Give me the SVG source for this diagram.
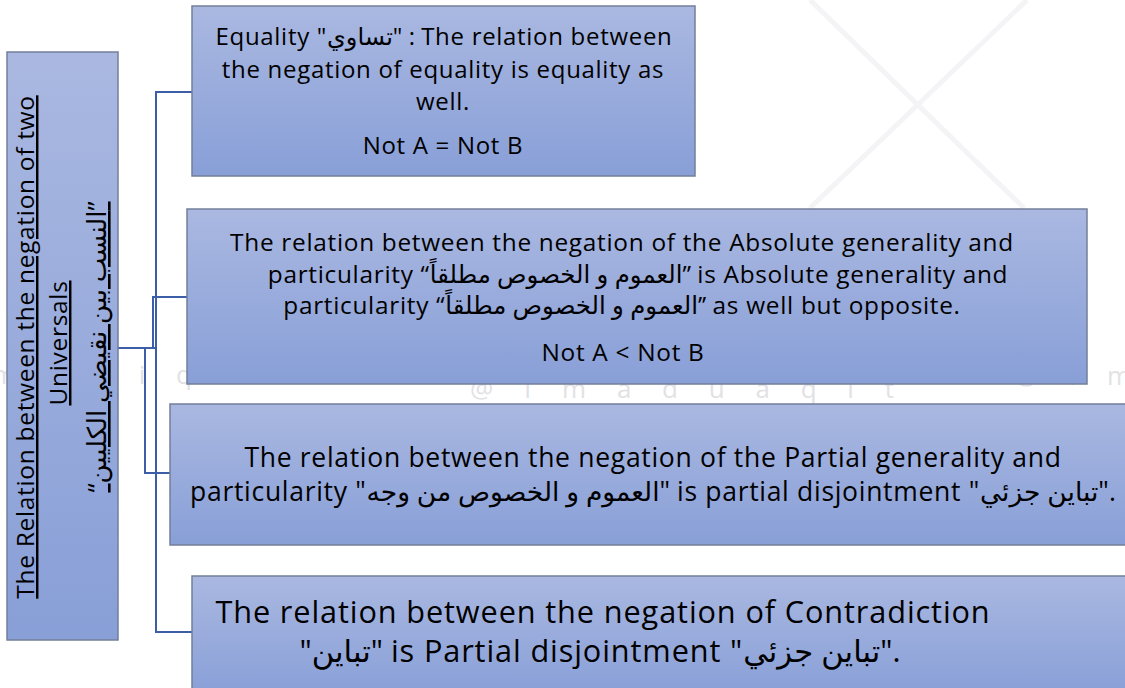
<svg xmlns="http://www.w3.org/2000/svg" width="1125" height="688" viewBox="0 0 1125 688">
<defs>
<linearGradient id="g" x1="0" y1="0" x2="0" y2="1">
<stop offset="0" stop-color="#aab8e1"/>
<stop offset="1" stop-color="#889fd7"/>
</linearGradient>
<style>
.box{fill:url(#g);stroke:#737f99;stroke-width:1.5}
.t{font-family:"Open Sans","DejaVu Sans",sans-serif;fill:#000;text-anchor:middle}
.ar{letter-spacing:0}
.c{fill:none;stroke:#3c5ea6;stroke-width:2}
.wm{font-family:"Open Sans","DejaVu Sans",sans-serif;fill:#e2e2e5;font-size:26px}
.x{stroke:#f4f4f6;stroke-width:5}
</style>
</defs>
<rect width="1125" height="688" fill="#fff"/>
<g id="watermark">
<line class="x" x1="810" y1="0" x2="1024" y2="208"/>
<line class="x" x1="1027" y1="0" x2="810" y2="208"/>
<text class="wm" x="-8" y="384" letter-spacing="12">m a d i q i t</text>
<text class="wm" x="470" y="398" letter-spacing="12">@ I m a d u a q i t</text>
<text class="wm" x="1015" y="385" letter-spacing="12">@ I m a</text>
</g>
<g id="connectors">
<path class="c" d="M192,92 H156 V632 H192"/>
<path class="c" d="M118,348 H156"/>
<path class="c" d="M187,297 H153 V348"/>
<path class="c" d="M145,348 V473 H170"/>
</g>
<g id="root">
<rect class="box" x="7" y="52" width="111" height="588"/>
<text class="t" font-size="24.5" letter-spacing="0.68" text-decoration="underline" transform="translate(34,347) rotate(-90)">The Relation between the negation of two</text>
<text class="t" font-size="24.5" letter-spacing="0.68" text-decoration="underline" transform="translate(67,343) rotate(-90)">Universals</text>
<text class="t" font-size="26" text-decoration="underline" transform="translate(106,347) rotate(-90)">“النسب بين نقيضي الكليين”</text>
</g>
<g id="n1">
<rect class="box" x="192" y="6" width="503" height="170"/>
<text class="t" font-size="24" letter-spacing="0.7" x="444" y="45">Equality "<tspan class="ar">تساوي</tspan>" : The relation between</text>
<text class="t" font-size="24" letter-spacing="0.7" x="443" y="78">the negation of equality is equality as</text>
<text class="t" font-size="24" letter-spacing="0.7" x="443" y="110">well.</text>
<text class="t" font-size="24" letter-spacing="0.7" x="443" y="154">Not A = Not B</text>
</g>
<g id="n2">
<rect class="box" x="187" y="209" width="900" height="175"/>
<text class="t" font-size="24.4" letter-spacing="0.7" x="622" y="251">The relation between the negation of the Absolute generality and</text>
<text class="t" font-size="24.4" letter-spacing="0.7" x="638" y="283">particularity “<tspan class="ar">العموم و الخصوص مطلقاً</tspan>” is Absolute generality and</text>
<text class="t" font-size="24.4" letter-spacing="0.7" x="622" y="314">particularity “<tspan class="ar">العموم و الخصوص مطلقاً</tspan>’’ as well but opposite.</text>
<text class="t" font-size="24.4" letter-spacing="0.7" x="623" y="361">Not A &lt; Not B</text>
</g>
<g id="n3">
<rect class="box" x="170" y="404" width="960" height="141"/>
<text class="t" font-size="26.5" letter-spacing="0.7" x="653" y="467">The relation between the negation of the Partial generality and</text>
<text class="t" font-size="26.5" letter-spacing="0.7" x="653" y="501">particularity "<tspan class="ar">العموم و الخصوص من وجه</tspan>" is partial disjointment "<tspan class="ar">تباين جزئي</tspan>".</text>
</g>
<g id="n4">
<rect class="box" x="192" y="576" width="940" height="120"/>
<text class="t" font-size="30.7" letter-spacing="0.88" x="603" y="623">The relation between the negation of Contradiction</text>
<text class="t" font-size="30.7" letter-spacing="0.88" x="600" y="662">"<tspan class="ar">تباين</tspan>" is Partial disjointment "<tspan class="ar">تباين جزئي</tspan>".</text>
</g>
</svg>
